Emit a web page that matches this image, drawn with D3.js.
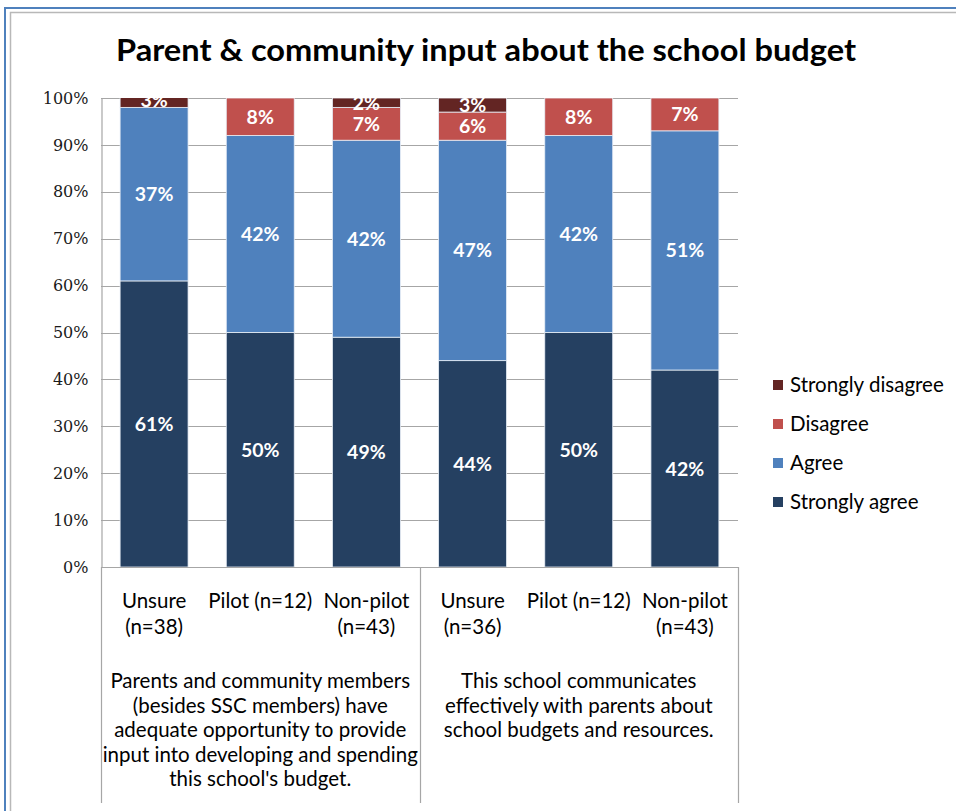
<!DOCTYPE html>
<html>
<head>
<meta charset="utf-8">
<script src="https://cdn.jsdelivr.net/npm/d3@7"></script>
<style>
  html, body { margin: 0; padding: 0; background: #fff; }
  svg { display: block; }
  text { font-family: Lato, "Open Sans", sans-serif; }
  .y-axis text { font-family: "DejaVu Serif", serif; }
</style>
</head>
<body>
<svg id="chart" width="956" height="811"></svg>
<script>
// Survey response shares (percent) per respondent group
const categories = ["Unsure (n=38)", "Pilot (n=12)", "Non-pilot (n=43)", "Unsure (n=36)", "Pilot (n=12)", "Non-pilot (n=43)"];
const categoryLines = [["Unsure", "(n=38)"], ["Pilot (n=12)"], ["Non-pilot", "(n=43)"], ["Unsure", "(n=36)"], ["Pilot (n=12)"], ["Non-pilot", "(n=43)"]];
const stronglyAgree = [61, 50, 49, 44, 50, 42];
const agree = [37, 42, 42, 47, 42, 51];
const disagree = [0, 8, 7, 6, 8, 7];
const stronglyDisagree = [3, 0, 2, 3, 0, 0];
const seriesNames = ["Strongly agree", "Agree", "Disagree", "Strongly disagree"];
const seriesColors = ["#254061", "#4f81bd", "#c0504d", "#632523"];
const yTicks = [0, 10, 20, 30, 40, 50, 60, 70, 80, 90, 100];
const questions = [
  ["Parents and community members", "(besides SSC members) have", "adequate opportunity to provide", "input into developing and spending", "this school's budget."],
  ["This school communicates", "effectively with parents about", "school budgets and resources."]
];
const title = "Parent & community input about the school budget";

const svg = d3.select("#chart");
const labelSize = 20.5;

// Outer chart frame
svg.append("rect").attr("x", 5).attr("y", 8).attr("width", 1000).attr("height", 900)
  .attr("fill", "none").attr("stroke", "#4f81bd").attr("stroke-width", 2);
svg.append("rect").attr("x", 10.5).attr("y", 12.5).attr("width", 1000).attr("height", 900)
  .attr("fill", "none").attr("stroke", "#b8b8b8").attr("stroke-width", 1.5);

const plot = { left: 101, right: 738, top: 98, bottom: 567 };

const x = d3.scaleBand().domain(categories.map((d, i) => i))
  .range([plot.left, plot.right]).paddingInner(0.36).paddingOuter(0.18);
const y = d3.scaleLinear().domain([0, 100]).range([plot.bottom, plot.top]);

// Title
svg.append("text").attr("x", 486).attr("y", 61).attr("text-anchor", "middle")
  .attr("font-size", 31).attr("font-weight", 700).attr("fill", "#000")
  .attr("textLength", 740).attr("lengthAdjust", "spacingAndGlyphs")
  .text(title);

// Gridlines
svg.append("g").selectAll("line").data(yTicks).join("line")
  .attr("x1", plot.left).attr("x2", plot.right)
  .attr("y1", d => Math.round(y(d)) + 0.5).attr("y2", d => Math.round(y(d)) + 0.5)
  .attr("stroke", "#a6a6a6").attr("stroke-width", 1.2);

// Y axis
const yAxis = d3.axisLeft(y).tickValues(yTicks).tickFormat(d => d + "%").tickSize(0).tickPadding(13);
const yg = svg.append("g").attr("class", "y-axis")
  .attr("transform", `translate(${plot.left + 0.5},0)`).call(yAxis);
yg.select(".domain").attr("stroke", "#a6a6a6").attr("stroke-width", 1.2);
yg.selectAll("text").style("font-size", "16px").style("fill", "#1a1a1a");

// Stacked series
const rows = categories.map((c, i) => ({
  i, "Strongly agree": stronglyAgree[i], "Agree": agree[i],
  "Disagree": disagree[i], "Strongly disagree": stronglyDisagree[i]
}));
const stacked = d3.stack().keys(seriesNames)(rows);

svg.append("defs").append("clipPath").attr("id", "plotClip")
  .append("rect").attr("x", plot.left).attr("y", plot.top)
  .attr("width", plot.right - plot.left).attr("height", plot.bottom - plot.top);

const barsG = svg.append("g").attr("clip-path", "url(#plotClip)");
stacked.forEach((layer, k) => {
  const g = barsG.append("g");
  g.selectAll("rect").data(layer.filter(d => d[1] - d[0] > 0)).join("rect")
    .attr("x", d => x(d.data.i))
    .attr("width", x.bandwidth())
    .attr("y", d => y(d[1]))
    .attr("height", d => y(d[0]) - y(d[1]))
    .attr("fill", seriesColors[k])
    .attr("stroke", "#e8eef6").attr("stroke-width", 0.8);
});
stacked.forEach((layer, k) => {
  barsG.append("g").selectAll("text").data(layer.filter(d => d[1] - d[0] > 0)).join("text")
    .attr("x", d => x(d.data.i) + x.bandwidth() / 2)
    .attr("y", d => (y(d[0]) + y(d[1])) / 2)
    .attr("dy", "0.36em")
    .attr("text-anchor", "middle")
    .attr("font-size", 19.5).attr("font-weight", 700).attr("fill", "#fff")
    .text(d => (d[1] - d[0]) + "%");
});

// X axis line and group dividers
svg.append("line").attr("x1", plot.left).attr("x2", plot.right)
  .attr("y1", plot.bottom + 0.5).attr("y2", plot.bottom + 0.5)
  .attr("stroke", "#a6a6a6").attr("stroke-width", 1.2);
const groupEdges = [plot.left, (plot.left + plot.right) / 2, plot.right];
svg.append("g").selectAll("line").data(groupEdges).join("line")
  .attr("x1", d => Math.round(d) + 0.5).attr("x2", d => Math.round(d) + 0.5)
  .attr("y1", plot.bottom).attr("y2", 803)
  .attr("stroke", "#a6a6a6").attr("stroke-width", 1.2);

// Category labels
const catG = svg.append("g");
categoryLines.forEach((lines, i) => {
  const t = catG.append("text").attr("text-anchor", "middle")
    .attr("font-size", labelSize).attr("fill", "#000");
  lines.forEach((s, j) => {
    t.append("tspan").attr("x", x(i) + x.bandwidth() / 2).attr("y", 608 + j * 25.5).text(s);
  });
});

// Question text under each group
questions.forEach((lines, gi) => {
  const cx = (groupEdges[gi] + groupEdges[gi + 1]) / 2;
  const t = svg.append("text").attr("text-anchor", "middle").attr("font-size", labelSize).attr("fill", "#000");
  lines.forEach((s, j) => {
    t.append("tspan").attr("x", cx).attr("y", 688 + j * 24.5).text(s);
  });
});

// Legend (reverse order, top is Strongly disagree)
const legendItems = seriesNames.map((n, k) => ({ n, c: seriesColors[k] })).reverse();
const lg = svg.append("g").selectAll("g").data(legendItems).join("g")
  .attr("transform", (d, i) => `translate(773,${385 + i * 39})`);
lg.append("rect").attr("x", 0).attr("y", -5).attr("width", 10).attr("height", 10).attr("fill", d => d.c);
lg.append("text").attr("x", 17).attr("y", 0).attr("dy", "0.35em")
  .attr("font-size", labelSize).attr("fill", "#000").text(d => d.n);
</script>
</body>
</html>
